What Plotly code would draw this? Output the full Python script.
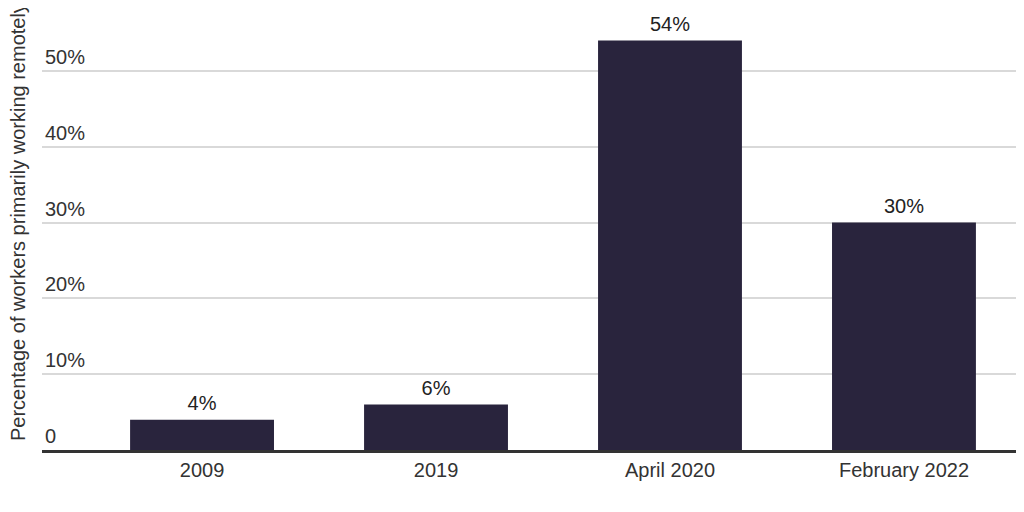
import plotly.graph_objects as go

periods = ["2009", "2019", "April 2020", "February 2022"]
remote_pct = [4, 6, 54, 30]
bar_labels = ["4%", "6%", "54%", "30%"]
tick_vals = [0, 10, 20, 30, 40, 50]
tick_text = ["0", "10%", "20%", "30%", "40%", "50%"]

font = "Liberation Sans"
ink = "#333333"

fig = go.Figure()
fig.add_trace(go.Bar(
    x=periods, y=remote_pct,
    marker=dict(color="#29243d", line=dict(width=0)),
    width=0.615, hoverinfo="skip",
))
# value labels sit a bit higher above the bars than the default bar text
fig.add_trace(go.Scatter(
    x=periods, y=remote_pct, text=bar_labels,
    mode="markers+text", textposition="top center",
    marker=dict(size=6, color="rgba(0,0,0,0)"),
    textfont=dict(family=font, size=20, color="#222222"),
    cliponaxis=False,
))

# page body has an 8px margin, so the figure is 8px smaller than the window
fig.update_layout(
    width=1016, height=504,
    margin=dict(l=34, r=0, t=0, b=62),
    paper_bgcolor="white", plot_bgcolor="white",
    showlegend=False,
    font=dict(family=font, size=20, color=ink),
    xaxis=dict(
        range=[-0.684, 3.513],
        showgrid=False, ticks="",
        showline=True, linecolor=ink, linewidth=3,
        tickfont=dict(family=font, size=20, color=ink),
    ),
    yaxis=dict(
        range=[0, 58.3],
        tickvals=tick_vals, ticktext=tick_text,
        ticklabelposition="inside top",
        showgrid=True, gridcolor="#d9d9d9", gridwidth=2,
        zeroline=False, showline=False, ticks="",
        tickfont=dict(family=font, size=20, color=ink),
    ),
    annotations=[dict(
        text="Percentage of workers primarily working remotely",
        textangle=-90, showarrow=False,
        xref="paper", yref="paper",
        x=-0.0244, y=0.0158, xanchor="center", yanchor="bottom",
        font=dict(family=font, size=20, color=ink),
    )],
)

fig.write_html("out.html")
